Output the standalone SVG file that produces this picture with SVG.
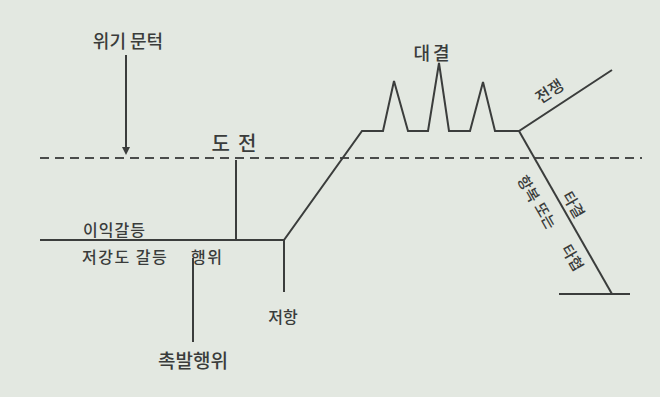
<svg xmlns="http://www.w3.org/2000/svg" width="660" height="397" viewBox="0 0 660 397">
<defs>
<style>
.ln{stroke:#3b3d3c;stroke-width:2;fill:none;stroke-linejoin:miter}
.ds{stroke:#4a4c4b;stroke-width:2;fill:none;stroke-dasharray:9 6}
.t{font-family:"Noto Sans CJK KR","Noto Sans",sans-serif;fill:#3a3c3b;font-weight:500}
</style>
</defs>
<rect width="660" height="397" fill="#e3e8e1"/>
<g id="connectors">
<line class="ds" x1="40" y1="158" x2="642" y2="158"/>
<line class="ln" x1="126" y1="55" x2="126" y2="150"/>
<path d="M122,147 L130,147 L126,155 Z" fill="#3b3d3c"/>
<line class="ln" x1="236" y1="160" x2="236" y2="240"/>
<path class="ln" d="M40,240 L284,240 L362,131 L383,131 L394,81 L408,131 L428,131 L439,63 L449,131 L470,131 L483,82 L495,131 L519,131 L612,70"/>
<line class="ln" x1="284" y1="240" x2="284" y2="292"/>
<line class="ln" x1="193" y1="258" x2="193" y2="342"/>
<line class="ln" x1="519" y1="131" x2="612" y2="294"/>
<line class="ln" x1="559" y1="294" x2="630" y2="294"/>
</g>
<g id="n-threshold"><text class="t" x="128" y="48" font-size="18" text-anchor="middle">위기 문턱</text></g>
<g id="n-challenge"><text class="t" x="238" y="151" font-size="20" text-anchor="middle" letter-spacing="8">도전</text></g>
<g id="n-interest"><text class="t" x="83" y="236" font-size="16" letter-spacing="1">이익갈등</text></g>
<g id="n-lowconflict"><text class="t" x="82" y="263" font-size="16" letter-spacing="1.5">저강도 갈등<tspan x="191">행위</tspan></text></g>
<g id="n-resist"><text class="t" x="283" y="323" font-size="16" text-anchor="middle">저항</text></g>
<g id="n-trigger"><text class="t" x="193" y="368" font-size="19" text-anchor="middle">촉발행위</text></g>
<g id="n-confront"><text class="t" x="433" y="60" font-size="18" text-anchor="middle" letter-spacing="3">대결</text></g>
<g id="n-war"><text class="t" x="550" y="97" font-size="16" text-anchor="middle" transform="rotate(-33 550 92)">전쟁</text></g>
<g id="n-surrender">
<text class="t" x="528" y="194" font-size="15" text-anchor="middle" transform="rotate(60 528 189)">항복</text>
<text class="t" x="545" y="221" font-size="15" text-anchor="middle" transform="rotate(60 545 216)">또는</text>
<text class="t" x="572" y="263" font-size="15" text-anchor="middle" transform="rotate(60 572 258)">타협</text>
</g>
<g id="n-settle"><text class="t" x="573" y="210" font-size="15" text-anchor="middle" transform="rotate(60 573 205)">타결</text></g>
</svg>
